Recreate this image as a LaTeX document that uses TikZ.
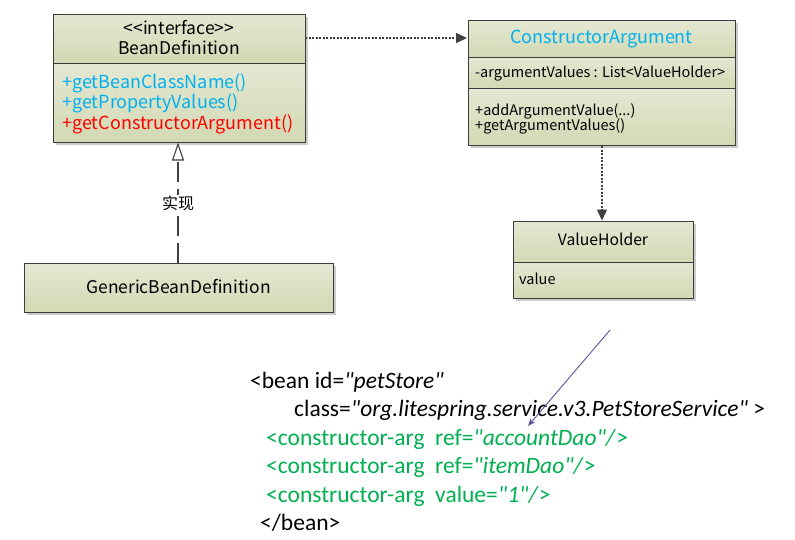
\documentclass[tikz,border=0pt]{standalone}
\usepackage{fontspec}
\setmainfont{Noto Sans CJK SC}
\newfontfamily\xmlfont{Carlito}
\usetikzlibrary{arrows.meta,shadows}
\definecolor{boxtop}{HTML}{E4E8D3}
\definecolor{boxbot}{HTML}{D2D9B3}
\definecolor{boxline}{HTML}{3C3C3C}
\definecolor{umlblue}{HTML}{00B0F0}
\definecolor{umlred}{HTML}{FF0000}
\definecolor{xmlgreen}{HTML}{00B050}
\definecolor{purplearrow}{HTML}{5A4E9C}
\definecolor{connector}{HTML}{404040}
\tikzset{
  boxshape/.style={fill=boxbot, drop shadow={shadow xshift=3pt, shadow yshift=-3pt, fill=black!20, opacity=1},
    anchor=north west, inner sep=0pt, outer sep=0pt},
  comp/.style={top color=boxtop, bottom color=boxbot, draw=boxline, line width=0.8pt},
  title/.style={anchor=base, font=\fontsize{17.5}{20}\selectfont, inner sep=0pt},
  member/.style={anchor=base west, font=\fontsize{18}{21}\selectfont, inner sep=0pt},
  smallmember/.style={anchor=base west, font=\fontsize{14.5}{17}\selectfont, inner sep=0pt},
  dep/.style={draw=connector, line width=1.3pt, dash pattern=on 2pt off 1.5pt, -{Triangle[length=11pt,width=10pt]}},
  realize/.style={draw=connector, line width=1.1pt, dash pattern=on 20pt off 7pt, -{Triangle[open,length=18pt,width=12pt,fill=white]}},
  xmlline/.style={anchor=base west, font=\xmlfont\fontsize{23.5}{28}\selectfont, inner sep=0pt},
}
\begin{document}
\begin{tikzpicture}[x=1pt,y=-1pt]
\useasboundingbox (0,0) rectangle (795,539);
% BeanDefinition
\node[boxshape, minimum width=252pt, minimum height=128pt] (bd) at (53,14) {};
\shade[comp] (53,14) rectangle (305,63);
\shade[comp] (53,63) rectangle (305,142);
\node[title] (bdst) at (179,34) {<{}<interface>{}>};
\node[title] (bdname) at (179,54) {BeanDefinition};
\node[member, text=umlblue] (bdm1) at (62,88.5) {+getBeanClassName()};
\node[member, text=umlblue] (bdm2) at (62,108.5) {+getPropertyValues()};
\node[member, text=umlred] (bdm3) at (62,129.5) {+getConstructorArgument()};
% ConstructorArgument
\node[boxshape, minimum width=267pt, minimum height=125pt] (ca) at (468,20) {};
\shade[comp] (468,20) rectangle (735,57);
\shade[comp] (468,57) rectangle (735,88);
\shade[comp] (468,88) rectangle (735,145);
\node[title, text=umlblue, font=\fontsize{18}{21}\selectfont] (caname) at (601.5,43.5) {ConstructorArgument};
\node[smallmember] (caattr) at (475,77) {-argumentValues : List<ValueHolder>};
\node[smallmember] (cam1) at (475,115) {+addArgumentValue(...)};
\node[smallmember] (cam2) at (475,130) {+getArgumentValues()};
% ValueHolder
\node[boxshape, minimum width=180pt, minimum height=77pt] (vh) at (513,221) {};
\shade[comp] (513,221) rectangle (693,262);
\shade[comp] (513,262) rectangle (693,298);
\node[title, font=\fontsize{15.7}{18}\selectfont] (vhname) at (603,245.5) {ValueHolder};
\node[smallmember] (vhattr) at (519,284) {value};
% GenericBeanDefinition
\node[boxshape, minimum width=309pt, minimum height=49pt] (gbd) at (24,263) {};
\shade[comp] (24,263) rectangle (333,312);
\node[title] (gbdname) at (178.5,293) {GenericBeanDefinition};
% connectors
\coordinate (bdr) at (305,38);
\coordinate (cal) at (467,38);
\draw[dep] (bdr) -- (cal);
\coordinate (cab) at (602,146);
\coordinate (vht) at (602,220.5);
\draw[dep] (cab) -- (vht);
\coordinate (gbdt) at (178,263);
\coordinate (bdb) at (178,142.5);
\draw[realize] (gbdt) -- (bdb);
\node[fill=white, inner sep=1pt, font=\fontsize{16}{18}\selectfont] (impl) at (178,203) {实现};
% XML
\node[xmlline] (x1) at (250,388) {<bean id=\textit{"petStore"}};
\node[xmlline] (x2) at (294,416) {class=\textit{"org.litespring.service.v3.PetStoreService"} >};
\node[xmlline, text=xmlgreen] (x3) at (266,445) {<constructor-arg\ \ ref=\textit{"accountDao"/}>};
\node[xmlline, text=xmlgreen] (x4) at (266,473) {<constructor-arg\ \ ref=\textit{"itemDao"/}>};
\node[xmlline, text=xmlgreen] (x5) at (266,502) {<constructor-arg\ \ value=\textit{"1"/}>};
\node[xmlline] (x6) at (260,530) {</bean>};
\coordinate (ps) at (610,330);
\coordinate (pe) at (528,426);
\draw[purplearrow, line width=0.9pt, -{Stealth[length=8pt,width=6pt]}] (ps) -- (pe);
\end{tikzpicture}
\end{document}
